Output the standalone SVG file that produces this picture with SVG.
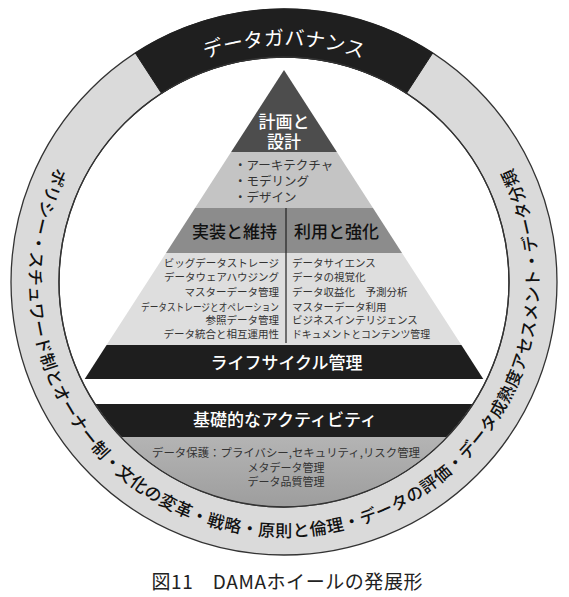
<svg xmlns="http://www.w3.org/2000/svg" width="569" height="597" viewBox="0 0 569 597">
<style>
text{font-family:"Noto Sans CJK JP","Noto Sans",sans-serif;}
.wt{fill:#fff;font-size:17px;font-weight:500;text-anchor:middle;}
.hd{fill:#111;font-size:17px;font-weight:500;text-anchor:middle;}
.bl{fill:#333;font-size:12.5px;}
.li{fill:#333;font-size:10.5px;}
.lr{text-anchor:end;}
.fd{fill:#333;font-size:11px;text-anchor:middle;}
.ring{fill:#111;font-size:17px;font-weight:500;letter-spacing:0.6px;}
</style>
<defs>
<clipPath id="inner"><circle cx="284" cy="282" r="224.5"/></clipPath>
<linearGradient id="fg" x1="0" y1="0" x2="0" y2="1">
<stop offset="0" stop-color="#b4b4b4"/><stop offset="1" stop-color="#9a9a9a"/>
</linearGradient>
<path id="titlePath" d="M131.7,100.5 A237,237 0 0 1 436.3,100.5"/>
<path id="ringPath" d="M284,27 A255,255 0 0 0 284,537 A255,255 0 0 0 284,27"/>
</defs>
<rect width="569" height="597" fill="#fff"/>

<g id="wheel">
<circle cx="284" cy="282" r="273" fill="#dadada" stroke="#333" stroke-width="1.3"/>
<circle cx="284" cy="282" r="225" fill="#fff" stroke="#333" stroke-width="1.3"/>
<path d="M135.3,53 A273,273 0 0 1 432.7,53 L406.5,93.3 A225,225 0 0 0 161.5,93.3 Z" fill="#1f1f1f" stroke="#1f1f1f" stroke-width="1"/>
</g>

<g id="governance">
<text fill="#fff" font-size="20" text-anchor="middle"><textPath href="#titlePath" startOffset="50%">データガバナンス</textPath></text>
</g>

<g id="ring-text">
<text class="ring" text-anchor="middle"><textPath href="#ringPath" startOffset="50%">ポリシー・スチュワード制とオーナー制・文化の変革・戦略・原則と倫理・データの評価・データ成熟度アセスメント・データ分類</textPath></text>
</g>

<g id="plan">
<polygon points="284,70 336.9,152 231.1,152" fill="#4d4d4d"/>
<text class="wt" x="284" y="128">計画と</text>
<text class="wt" x="284" y="148">設計</text>
</g>

<g id="plan-items">
<polygon points="231.1,152 336.9,152 373,208 195,208" fill="#c4c4c4"/>
<text class="bl" x="234" y="169.5">・アーキテクチャ</text>
<text class="bl" x="234" y="185.5">・モデリング</text>
<text class="bl" x="234" y="201.5">・デザイン</text>
</g>

<g id="headers">
<polygon points="195,208 373,208 402,253 166,253" fill="#8c8c8c"/>
<text class="hd" x="234.5" y="238">実装と維持</text>
<text class="hd" x="336.5" y="238">利用と強化</text>
</g>

<g id="lists">
<polygon points="166,253 402,253 461.4,345 106.6,345" fill="#dedede"/>
<text class="li lr" x="279" y="267">ビッグデータストレージ</text>
<text class="li lr" x="279" y="281">データウェアハウジング</text>
<text class="li lr" x="279" y="296">マスターデータ管理</text>
<text class="li" x="141" y="311" textLength="138" lengthAdjust="spacingAndGlyphs">データストレージとオペレーション</text>
<text class="li lr" x="279" y="324">参照データ管理</text>
<text class="li lr" x="279" y="338">データ統合と相互運用性</text>
<text class="li" x="292" y="267">データサイエンス</text>
<text class="li" x="292" y="281">データの視覚化</text>
<text class="li" x="292" y="296">データ収益化　予測分析</text>
<text class="li" x="292" y="311">マスターデータ利用</text>
<text class="li" x="292" y="324">ビジネスインテリジェンス</text>
<text class="li" x="292" y="338" textLength="138" lengthAdjust="spacingAndGlyphs">ドキュメントとコンテンツ管理</text>
</g>

<g id="lifecycle">
<polygon points="106.6,345 461.4,345 483.3,379 84.7,379" fill="#1e1e1e"/>
<text class="wt" x="286.5" y="369">ライフサイクル管理</text>
</g>

<g id="foundation">
<g clip-path="url(#inner)">
<rect x="50" y="404" width="470" height="33" fill="#1e1e1e"/>
<rect x="50" y="437" width="470" height="80" fill="url(#fg)"/>
</g>
<circle cx="284" cy="282" r="225" fill="none" stroke="#333" stroke-width="1.3"/>
<text class="wt" x="285" y="426">基礎的なアクティビティ</text>
<text class="fd" x="286" y="457" textLength="268" lengthAdjust="spacingAndGlyphs">データ保護：プライバシー,セキュリティ,リスク管理</text>
<text class="fd" x="286" y="472">メタデータ管理</text>
<text class="fd" x="286" y="486">データ品質管理</text>
</g>

<g id="connectors">
<line x1="286" y1="208" x2="286" y2="343" stroke="#222" stroke-width="1.2"/>
</g>

<g id="caption">
<text x="287" y="589" fill="#222" font-size="19" text-anchor="middle" textLength="271" lengthAdjust="spacing">図11　DAMAホイールの発展形</text>
</g>
</svg>
